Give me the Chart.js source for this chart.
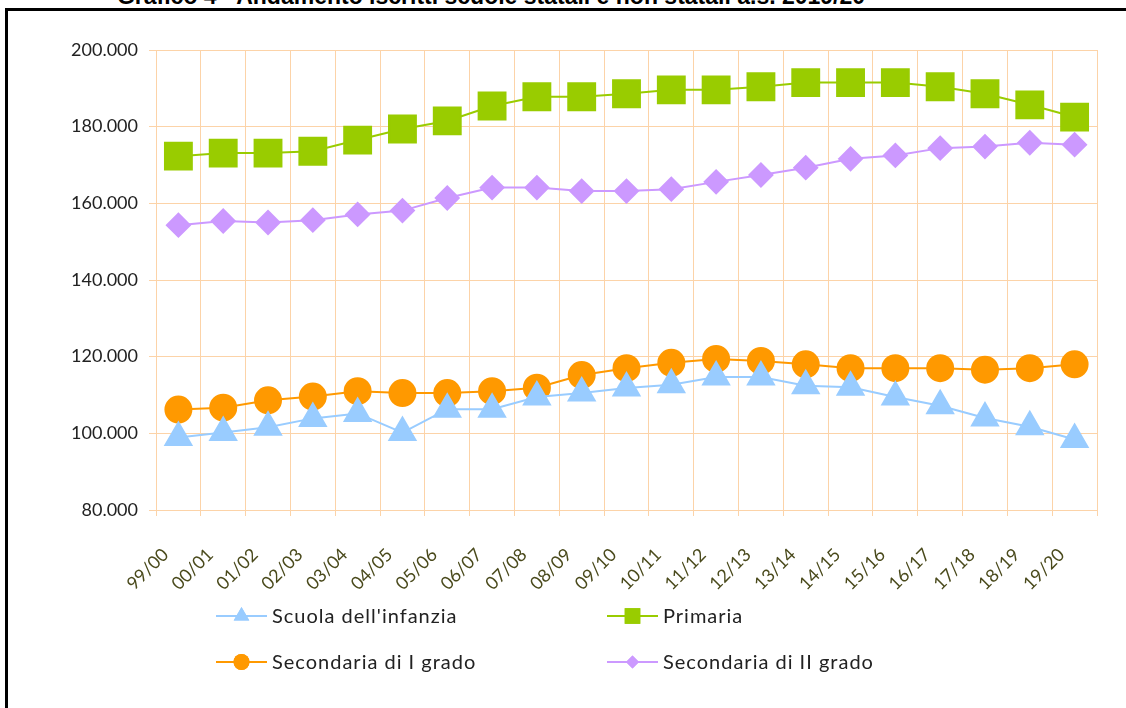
<!DOCTYPE html>
<html>
<head>
<meta charset="utf-8">
<script src="https://cdn.jsdelivr.net/npm/chart.js@4.4.1/dist/chart.umd.min.js"></script>
<style>
body { margin: 0; background: #fff; overflow: hidden; }
#titolo { position: absolute; left: 0; width: 982px; top: -15px; text-align: center;
  font-family: "Liberation Sans", Arial, sans-serif; font-weight: bold; font-size: 23px; line-height: 22px; color: #000; white-space: nowrap; }
#cornice { position: absolute; left: 5px; top: 8px; width: 1200px; height: 800px; border: 3px solid #000; }
#wrap { position: absolute; left: 0; top: 0; width: 1126px; height: 708px; }
</style>
</head>
<body>
<div id="titolo">Grafico 4 - Andamento iscritti scuole statali e non statali a.s. 2019/20</div>
<div id="cornice"></div>
<div id="wrap"><canvas id="graf1" width="1126" height="708"></canvas></div>
<script>
const anni = ['99/00','00/01','01/02','02/03','03/04','04/05','05/06','06/07','07/08','08/09','09/10',
  '10/11','11/12','12/13','13/14','14/15','15/16','16/17','17/18','18/19','19/20'];

const infanzia = [98900,100200,101600,103900,105200,100200,106300,106300,109500,110500,111800,
  112700,114700,114700,112400,112000,109500,107200,104000,101700,98400];
const primaria = [172300,173100,173100,173600,176500,179400,181500,185400,187800,187800,188600,
  189600,189600,190400,191500,191500,191500,190400,188600,185700,182500];
const secondariaI = [106200,106700,108600,109600,111000,110500,110500,111000,111900,115200,117000,
  118400,119400,118900,118000,117000,117000,117000,116600,117000,118000];
const secondariaII = [154300,155400,155000,155600,157100,158100,161400,164100,164100,163200,163200,
  163700,165600,167400,169300,171600,172500,174400,174800,175800,175300];

const yMin = 80000, yMax = 200000, yStep = 20000;

const puntini = (v) => String(v).replace(/\B(?=(\d{3})+(?!\d))/g, '.');
const grigliaCol = '#fcd3a8';

// legenda 2x2 disegnata a mano sul canvas
const legenda2x2 = {
  id: 'legenda2x2',
  afterDraw(chart, args, opts) {
    const ctx = chart.ctx;
    chart.data.datasets.forEach((ds, i) => {
      const x0 = opts.colX[i % 2];
      const y0 = opts.rowY[Math.floor(i / 2)];
      ctx.save();
      ctx.strokeStyle = ds.borderColor;
      ctx.lineWidth = 2;
      ctx.beginPath();
      ctx.moveTo(x0, y0);
      ctx.lineTo(x0 + 51, y0);
      ctx.stroke();
      ctx.fillStyle = ds.backgroundColor;
      Chart.helpers.drawPoint(ctx, {pointStyle: ds.pointStyle, radius: opts.raggi[i], borderWidth: 0}, x0 + 25.5, y0);
      ctx.fill();
      ctx.fillStyle = '#222';
      ctx.font = '20px Lato';
      ctx.letterSpacing = '1px';
      ctx.textBaseline = 'middle';
      ctx.fillText(ds.label, x0 + 56, y0 + 1);
      ctx.restore();
    });
  }
};

new Chart(document.getElementById('graf1').getContext('2d'), {
  type: 'line',
  data: {
    labels: anni,
    datasets: [{
      label: "Scuola dell'infanzia",
      data: infanzia,
      borderColor: '#99ccff', backgroundColor: '#99ccff',
      borderWidth: 2, pointStyle: 'triangle', pointRadius: 15, pointHoverRadius: 15
    }, {
      label: 'Primaria',
      data: primaria,
      borderColor: '#99cc00', backgroundColor: '#99cc00',
      borderWidth: 2, pointStyle: 'rect', pointRadius: 19, pointHoverRadius: 19
    }, {
      label: 'Secondaria di I grado',
      data: secondariaI,
      borderColor: '#ff9900', backgroundColor: '#ff9900',
      borderWidth: 2, pointStyle: 'circle', pointRadius: 13, pointHoverRadius: 13
    }, {
      label: 'Secondaria di II grado',
      data: secondariaII,
      borderColor: '#cc99ff', backgroundColor: '#cc99ff',
      borderWidth: 2, pointStyle: 'rectRot', pointRadius: 11.5, pointHoverRadius: 11.5
    }]
  },
  options: {
    responsive: false,
    animation: false,
    events: [],
    layout: { padding: { top: 50, right: 29, left: 0, bottom: 108 } },
    plugins: {
      legend: { display: false },
      tooltip: { enabled: false },
      legenda2x2: { colX: [216, 607], rowY: [616, 662], raggi: [9, 11, 8, 6.5] }
    },
    elements: { point: { borderWidth: 0 }, line: { tension: 0 } },
    scales: {
      x: {
        offset: true,
        grid: { offset: true, color: grigliaCol, tickColor: grigliaCol, tickLength: 6, lineWidth: 1 },
        border: { color: grigliaCol },
        ticks: { color: '#4a4a1c', font: { family: 'Lato', size: 18 }, minRotation: 45, maxRotation: 45,
          padding: 28, labelOffset: -13, autoSkip: false },
        afterFit: (s) => { s.height = 90; }
      },
      y: {
        min: yMin, max: yMax,
        grid: { color: grigliaCol, tickColor: grigliaCol, tickLength: 7 },
        border: { color: grigliaCol },
        ticks: { stepSize: yStep, color: '#222', font: { family: 'Lato', size: 18 }, padding: 11, callback: (v) => puntini(v) },
        afterFit: (s) => { s.width = 156; }
      }
    }
  },
  plugins: [legenda2x2]
});
</script>
</body>
</html>
